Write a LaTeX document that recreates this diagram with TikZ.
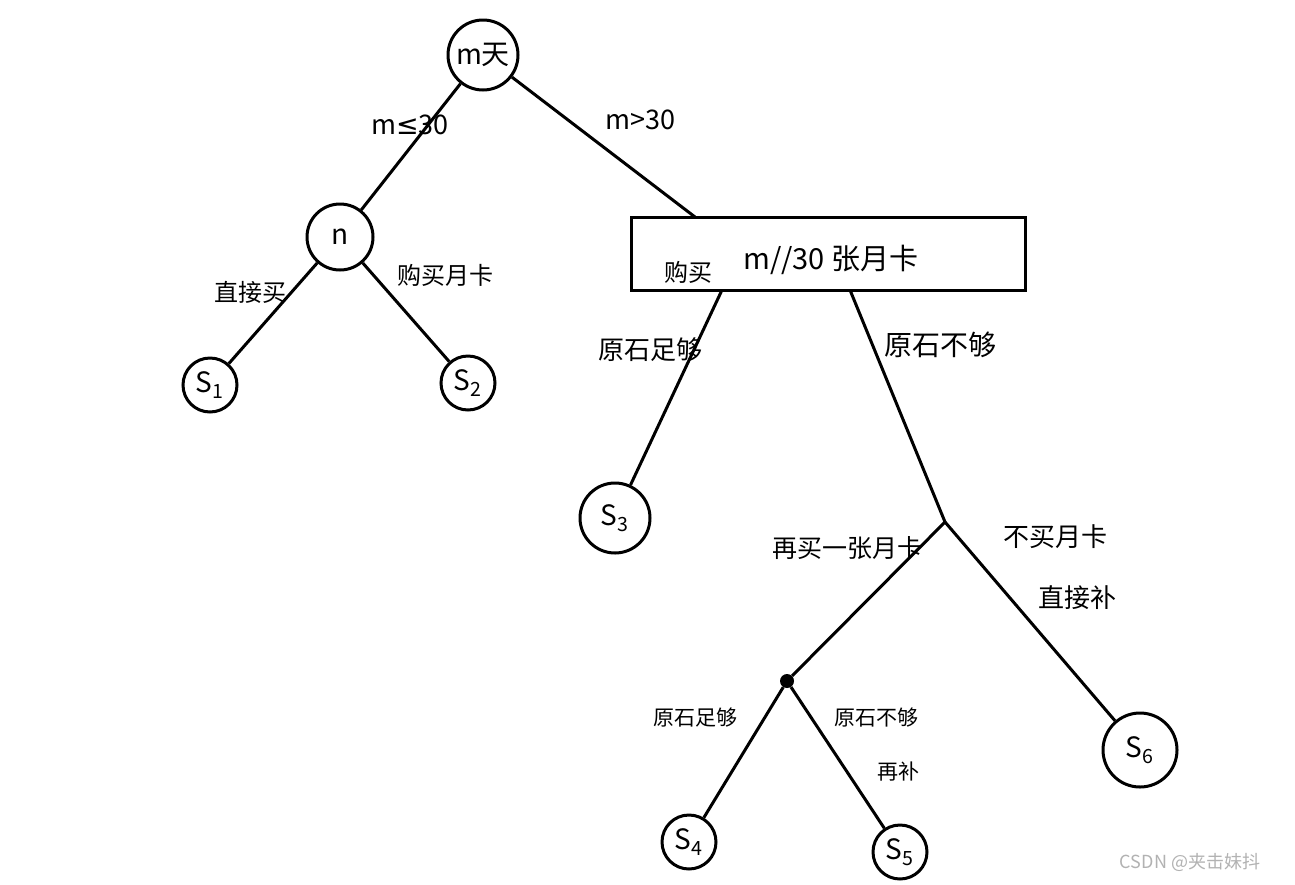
\documentclass[tikz,border=0pt]{standalone}
\usepackage{fontspec}
\setmainfont{Noto Sans CJK SC}
\newfontfamily\cjk{Noto Sans CJK SC}
\newfontfamily\djv{DejaVu Sans}
\begin{document}
\begin{tikzpicture}[x=1pt,y=-1pt,
  circ/.style={draw,circle,line width=3pt,inner sep=0pt,font=\cjk\fontsize{28}{30}\selectfont},
  edge/.style={line width=3pt},
  lbl/.style={font=\cjk\fontsize{24}{27}\selectfont,inner sep=1pt,align=center},
  slbl/.style={font=\cjk\fontsize{21}{24}\selectfont,inner sep=1pt,align=center}]
\useasboundingbox[fill=white] (0,0) rectangle (1295,884);
% nodes
\node[circ,minimum size=70pt] (root) at (483,55) {m天};
\node[circ,minimum size=66pt] (n) at (340,237) {n};
\node[circ,minimum size=54pt] (s1) at (210,385) {S\textsubscript{1}};
\node[circ,minimum size=54pt] (s2) at (468,383) {S\textsubscript{2}};
\node[draw,line width=3pt,minimum width=394pt,minimum height=73pt,inner sep=0pt] (box) at (828,253.5) {};
\node[font=\cjk\fontsize{29}{32}\selectfont,anchor=west,inner sep=1pt] (boxtxt) at (742,260) {m//30 张月卡};
\node[lbl] (buy) at (688,272) {购买};
\node[circ,minimum size=70pt] (s3) at (615,518) {S\textsubscript{3}};
\coordinate (j) at (945,522);
\node[fill,circle,inner sep=0pt,minimum size=14pt] (dot) at (787,681) {};
\node[circ,minimum size=54pt] (s4) at (689,842) {S\textsubscript{4}};
\node[circ,minimum size=54pt] (s5) at (900,852) {S\textsubscript{5}};
\node[circ,minimum size=74pt] (s6) at (1140,750) {S\textsubscript{6}};
% edges
\coordinate (rb) at (695,217);
\draw[edge] (root) -- (n);
\draw[edge] (root) -- (rb);
\draw[edge] (n) -- (s1);
\draw[edge] (n) -- (s2);
\coordinate (b1) at (722,290);
\coordinate (b2) at (850,290);
\draw[edge] (b1) -- (s3);
\draw[edge] (b2) -- (j);
\draw[edge] (j) -- (dot);
\draw[edge] (j) -- (s6);
\draw[edge] (dot) -- (s4);
\draw[edge] (dot) -- (s5);
% labels
\node[lbl,font=\cjk\fontsize{27}{30}\selectfont] (l1) at (410,125) {m{\djv ≤}30};
\node[lbl,font=\cjk\fontsize{27}{30}\selectfont] (l2) at (640,120) {m>30};
\node[lbl] (l3) at (250,292) {直接买};
\node[lbl] (l4) at (445,275) {购买月卡};
\node[lbl,font=\cjk\fontsize{26}{29}\selectfont] (l5) at (650,350) {原石足够};
\node[lbl,font=\cjk\fontsize{28}{31}\selectfont] (l6) at (940,345) {原石不够};
\node[lbl,font=\cjk\fontsize{25}{28}\selectfont] (l7) at (847,548) {再买一张月卡};
\node[lbl,font=\cjk\fontsize{26}{29}\selectfont] (l8) at (1055,537) {不买月卡};
\node[lbl,font=\cjk\fontsize{26}{29}\selectfont] (l9) at (1077,598) {直接补};
\node[slbl] (l10) at (695,718) {原石足够};
\node[slbl] (l11) at (876,718) {原石不够};
\node[slbl] (l12) at (898,772) {再补};
\node[font=\cjk\fontsize{18}{20}\selectfont,text=black!30] (wm) at (1190,862) {CSDN @夹击妹抖};
\end{tikzpicture}
\end{document}
